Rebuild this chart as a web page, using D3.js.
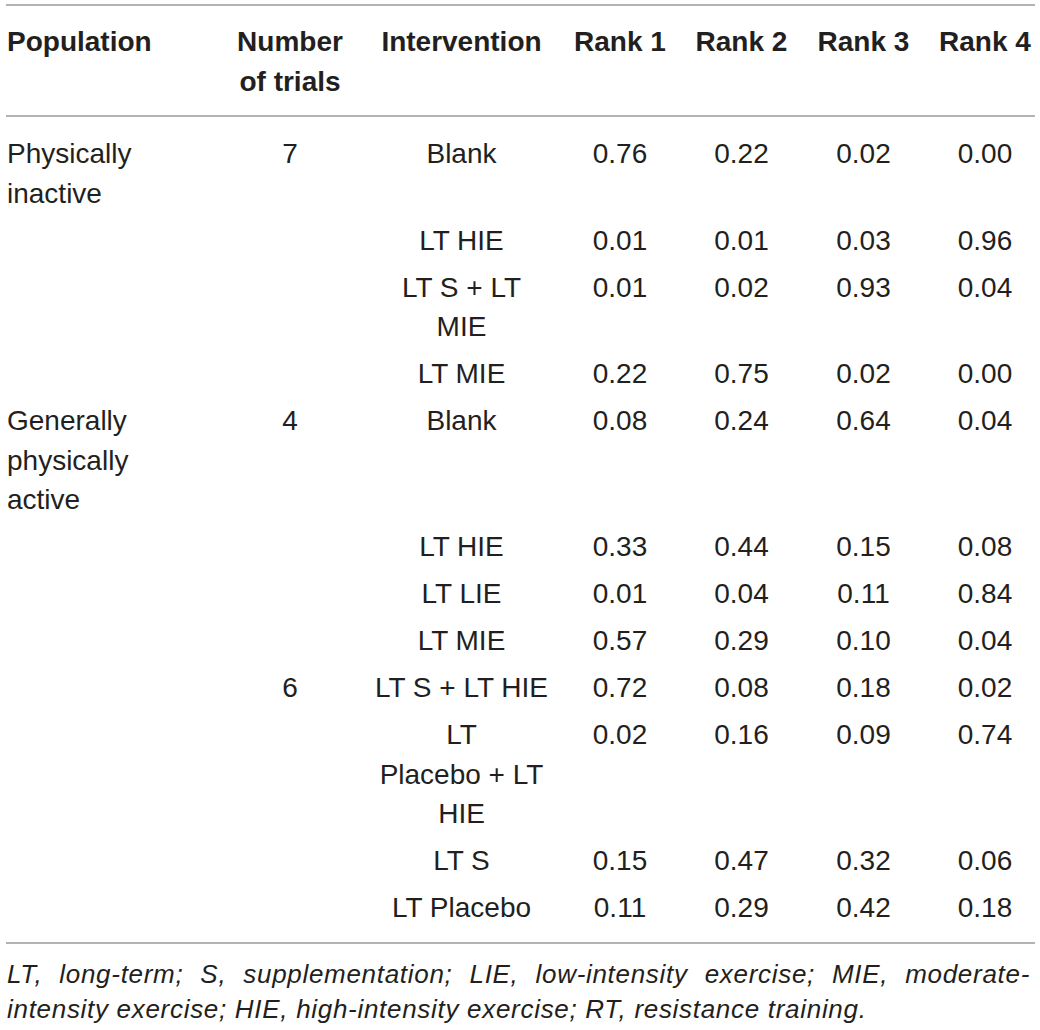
<!DOCTYPE html>
<html>
<head>
<meta charset="utf-8">
<script src="https://cdn.jsdelivr.net/npm/d3@7"></script>
<style>
  body { margin: 0; background: #fff; }
  svg { display: block; font-family: "Liberation Sans", Arial, Helvetica, sans-serif; }
</style>
</head>
<body>
<div id="chart"></div>
<script>
// columnas de la tabla
const headers = ["Population", "Number\nof trials", "Intervention", "Rank 1", "Rank 2", "Rank 3", "Rank 4"];

const population = ["Physically\ninactive", "", "", "", "Generally\nphysically\nactive", "", "", "", "", "", "", ""];
const trials = ["7", "", "", "", "4", "", "", "", "6", "", "", ""];
const interventions = [
  "Blank", "LT HIE", "LT S + LT\nMIE", "LT MIE",
  "Blank", "LT HIE", "LT LIE", "LT MIE",
  "LT S + LT HIE", "LT\nPlacebo + LT\nHIE", "LT S", "LT Placebo"
];
const rank1 = [0.76, 0.01, 0.01, 0.22, 0.08, 0.33, 0.01, 0.57, 0.72, 0.02, 0.15, 0.11];
const rank2 = [0.22, 0.01, 0.02, 0.75, 0.24, 0.44, 0.04, 0.29, 0.08, 0.16, 0.47, 0.29];
const rank3 = [0.02, 0.03, 0.93, 0.02, 0.64, 0.15, 0.11, 0.10, 0.18, 0.09, 0.32, 0.42];
const rank4 = [0.00, 0.96, 0.04, 0.00, 0.04, 0.08, 0.84, 0.04, 0.02, 0.74, 0.06, 0.18];

const footnote = [
  "LT, long-term; S, supplementation; LIE, low-intensity exercise; MIE, moderate-",
  "intensity exercise; HIE, high-intensity exercise; RT, resistance training."
];

// 1. Lienzo
const width = 1040;
const height = 1030;
const fontSize = 28;
const lineH = 39.5;
const textColor = "#231f20";

const svg = d3.select("#chart").append("svg")
  .attr("width", width)
  .attr("height", height);

// 2. Posición de cada columna (x, anclaje)
const cols = [
  { x: 7, anchor: "start" },
  { x: 290, anchor: "middle" },
  { x: 461.5, anchor: "middle" },
  { x: 620, anchor: "middle" },
  { x: 741.5, anchor: "middle" },
  { x: 863.5, anchor: "middle" },
  { x: 985, anchor: "middle" }
];

const fmt = d3.format(".2f");

const rows = interventions.map((d, i) => [
  population[i], trials[i], d,
  fmt(rank1[i]), fmt(rank2[i]), fmt(rank3[i]), fmt(rank4[i])
]);

function rule(y) {
  svg.append("line")
    .attr("x1", 6).attr("x2", 1035)
    .attr("y1", y).attr("y2", y)
    .attr("stroke", "#9a9a9a")
    .attr("stroke-width", 1.5);
}

function cell(g, text, col, baseline, bold) {
  const t = g.append("text")
    .attr("x", cols[col].x)
    .attr("y", baseline)
    .attr("text-anchor", cols[col].anchor)
    .attr("font-size", fontSize)
    .attr("font-weight", bold ? "bold" : "normal")
    .attr("fill", textColor);
  text.split("\n").forEach((s, k) => {
    t.append("tspan").attr("x", cols[col].x).attr("dy", k ? lineH : 0).text(s);
  });
}

// 3. Encabezado
rule(5);
const head = svg.append("g");
headers.forEach((h, c) => cell(head, h, c, 51, true));
rule(116);

// 4. Filas
let base = 116 + 47;
const body = svg.append("g");
rows.forEach((r) => {
  r.forEach((v, c) => { if (v) cell(body, v, c, base, false); });
  const nLines = d3.max(r, (v) => v.split("\n").length);
  base += 47 + (nLines - 1) * lineH;
});
const lastBase = base - 47;
rule(lastBase + 26);

// 5. Nota al pie (primera línea justificada)
const noteG = svg.append("g")
  .attr("font-size", 26)
  .attr("letter-spacing", 0.7)
  .attr("font-style", "italic")
  .attr("fill", textColor);
const left = 7, right = 1030;
footnote.forEach((line, k) => {
  const y = 983 + k * 35;
  if (k === footnote.length - 1) {
    noteG.append("text").attr("x", left).attr("y", y).text(line);
    return;
  }
  const words = line.split(" ");
  const ws = words.map((w) => noteG.append("text").attr("y", y).text(w));
  const widths = ws.map((t) => t.node().getComputedTextLength());
  const gap = (right - left - d3.sum(widths)) / (words.length - 1);
  let x = left;
  ws.forEach((t, i) => { t.attr("x", x); x += widths[i] + gap; });
});
</script>
</body>
</html>
